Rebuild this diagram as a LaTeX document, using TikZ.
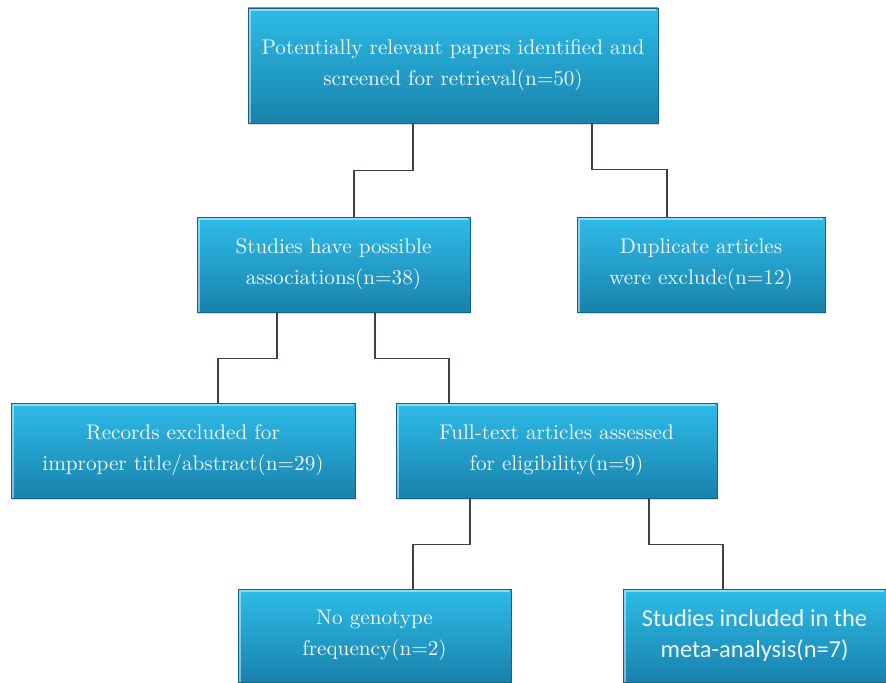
\documentclass[tikz,border=0pt]{standalone}
\usepackage{fontspec}
\newfontfamily\calfont{Carlito}
\definecolor{boxtop}{RGB}{46, 188, 232}
\definecolor{boxbot}{RGB}{24, 130, 172}
\definecolor{boxedge}{RGB}{18, 100, 135}
\definecolor{boxtext}{RGB}{242, 246, 248}
\definecolor{linkgray}{RGB}{55, 68, 74}
\usetikzlibrary{calc, shadows}
\tikzset{
	stage/.style={rectangle, draw=boxedge, line width=0.4pt, top color=boxtop, bottom color=boxbot, text=boxtext, align=center, inner sep=0pt, font=\rmfamily\fontsize{10.6}{15.5}\selectfont, drop shadow={shadow xshift=0.6pt, shadow yshift=-0.8pt, opacity=0.25},
		path picture={\draw[white, opacity=0.45, line width=1.2pt] ([shift={(0.8pt,-0.8pt)}]path picture bounding box.south west) |- ([shift={(-0.8pt,-0.8pt)}]path picture bounding box.north east);}},
	link/.style={draw=linkgray, line width=0.8pt},
}
\begin{document}
\begin{tikzpicture}[x=0.5pt, y=0.5pt]
	\useasboundingbox (0,0) rectangle (886,682);
	\node[stage, minimum width=205pt, minimum height=57.5pt] (top) at (453,616.5) {Potentially relevant papers identified and\\screened for retrieval(n=50)};
	\node[stage, minimum width=136.5pt, minimum height=47.5pt] (stud) at (333.5,417.5) {Studies have possible\\associations(n=38)};
	\node[stage, minimum width=124pt, minimum height=47.5pt] (dup) at (701,417.5) {Duplicate articles\\were exclude(n=12)};
	\node[stage, minimum width=172pt, minimum height=47.5pt] (rec) at (183,231.5) {Records excluded for\\improper title/abstract(n=29)};
	\node[stage, minimum width=160.5pt, minimum height=47.5pt] (full) at (556.5,231.5) {Full-text articles assessed\\for eligibility(n=9)};
	\node[stage, minimum width=136.5pt, minimum height=46.5pt] (nogen) at (374.5,46.5) {No genotype\\frequency(n=2)};
	\node[stage, minimum width=131.5pt, minimum height=46.5pt, font=\calfont\fontsize{12.2}{15.5}\selectfont] (incl) at (754.5,46.5) {Studies included in the\\meta-analysis(n=7)};
	% elbow connectors
	\draw[link] ($(top.south)+(-40,0)$) -- ++(0,-47) -| ($(stud.north)+(20.5,0)$);
	\draw[link] ($(top.south)+(139,0)$) -- ++(0,-46) -| ($(dup.north)+(-34,0)$);
	\draw[link] ($(stud.south)+(-56.5,0)$) -- ++(0,-46) -| ($(rec.north)+(35,0)$);
	\draw[link] ($(stud.south)+(41.5,0)$) -- ++(0,-46) -| ($(full.north)+(-107.5,0)$);
	\draw[link] ($(full.south)+(-86.5,0)$) -- ++(0,-46) -| ($(nogen.north)+(38.5,0)$);
	\draw[link] ($(full.south)+(92.5,0)$) -- ++(0,-46) -| ($(incl.north)+(-31.5,0)$);
\end{tikzpicture}
\end{document}
